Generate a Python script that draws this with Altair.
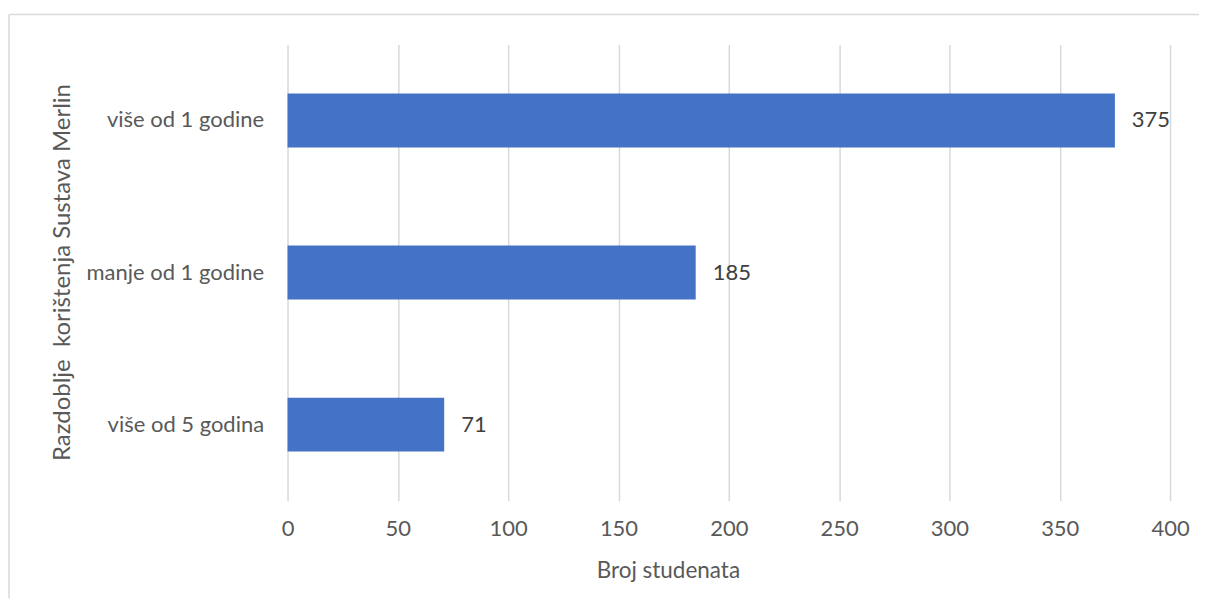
import altair as alt
import pandas as pd

categories = ["više od 1 godine", "manje od 1 godine", "više od 5 godina"]
values = [375, 185, 71]
x_ticks = [0, 50, 100, 150, 200, 250, 300, 350, 400]

df = pd.DataFrame({"kategorija": categories, "broj": values})
frame_df = pd.DataFrame({"k": [0]})

FONT = "Lato"
GRID = "#d9d9d9"

x_enc = alt.X(
    "broj:Q",
    scale=alt.Scale(domain=[0, 400], nice=False, zero=True),
    axis=alt.Axis(
        values=x_ticks,
        title="Broj studenata",
        titleFont=FONT,
        titleFontSize=22.5,
        titleFontWeight="normal",
        titleColor="#595959",
        titleX=381,
        titleY=70,
        titleBaseline="middle",
        labelFont=FONT,
        labelFontSize=22,
        labelColor="#595959",
        labelPadding=18,
        labelFlush=False,
        labelOverlap=False,
        domain=False,
        ticks=False,
        grid=True,
        gridColor=GRID,
        gridWidth=1.5,
    ),
)

y_enc = alt.Y(
    "kategorija:N",
    sort=categories,
    scale=alt.Scale(paddingInner=0.645, paddingOuter=0.3225),
    axis=alt.Axis(
        title="Razdoblje\u00a0 korištenja Sustava Merlin",
        titleFont=FONT,
        titleFontSize=24,
        titleFontWeight="normal",
        titleColor="#595959",
        titleX=-225,
        titleY=228,
        titleBaseline="middle",
        titleAngle=270,
        labelFont=FONT,
        labelFontSize=22,
        labelColor="#595959",
        labelPadding=24,
        domain=False,
        ticks=False,
        grid=False,
    ),
)

bars = alt.Chart(df).mark_bar(color="#4472C4").encode(x=x_enc, y=y_enc)

labels = alt.Chart(df).mark_text(
    align="left", baseline="middle", dx=17, font=FONT, fontSize=22, color="#404040"
).encode(x="broj:Q", y=alt.Y("kategorija:N", sort=categories), text="broj:Q")

top_border = alt.Chart(frame_df).mark_rule(color=GRID, strokeWidth=1.5).encode(
    x=alt.value(-279), x2=alt.value(913), y=alt.value(-30)
)
left_border = alt.Chart(frame_df).mark_rule(color=GRID, strokeWidth=1.5).encode(
    x=alt.value(-279), y=alt.value(-30), y2=alt.value(555)
)

chart = (
    alt.layer(bars, labels, top_border, left_border)
    .properties(
        width=884,
        height=457,
        padding={"left": 0, "top": 5, "right": 0, "bottom": 0},
        background="white",
    )
    .configure_view(stroke=None)
)

chart.save("out.html", embed_options={"renderer": "svg", "actions": False})
